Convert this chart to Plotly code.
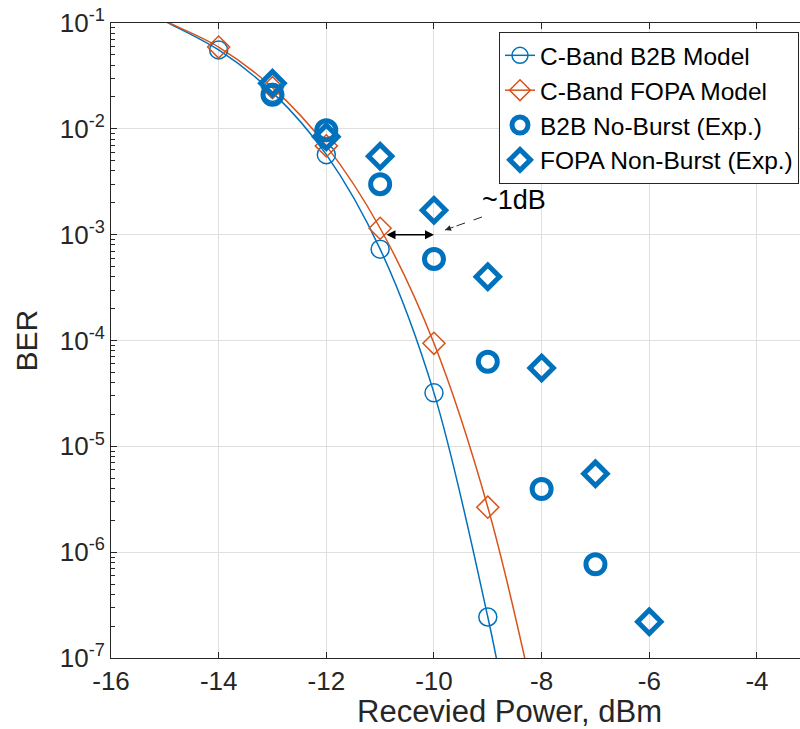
import plotly.graph_objects as go

# Received optical power (dBm) and bit-error-rate values
model_x = [-14, -13, -12, -11, -10, -9]
b2b_model_ber = [5.56e-2, 2.21e-2, 5.7e-3, 7.3e-4, 3.2e-5, 2.44e-7]
fopa_model_ber = [5.93e-2, 2.45e-2, 6.9e-3, 1.15e-3, 9.4e-5, 2.66e-6]

# Smooth model curves (extended to the plot edges)
b2b_curve_x = [-15.2, -15, -14, -13, -12, -11, -10, -9, -8.8]
b2b_curve_ber = [1.18e-1, 1.04e-1, 5.56e-2, 2.21e-2, 5.7e-3, 7.3e-4, 3.2e-5, 2.44e-7, 7.8e-8]
fopa_curve_x = [-15.2, -15, -14, -13, -12, -11, -10, -9, -8.2]
fopa_curve_ber = [1.2e-1, 1.05e-1, 5.93e-2, 2.45e-2, 6.9e-3, 1.15e-3, 9.4e-5, 2.66e-6, 5.5e-8]

# Measured results
b2b_exp_x = [-13, -12, -11, -10, -9, -8, -7]
b2b_exp_ber = [2.1e-2, 9.7e-3, 3.0e-3, 5.9e-4, 6.3e-5, 3.95e-6, 7.7e-7]
fopa_exp_x = [-13, -12, -11, -10, -9, -8, -7, -6]
fopa_exp_ber = [2.7e-2, 8.4e-3, 5.5e-3, 1.7e-3, 4.0e-4, 5.5e-5, 5.5e-6, 2.2e-7]

# Axis ticks
x_ticks = [-16, -14, -12, -10, -8, -6, -4]
x_tick_labels = ["-16", "-14", "-12", "-10", "-8", "-6", "-4"]
y_ticks = [1e-7, 1e-6, 1e-5, 1e-4, 1e-3, 1e-2, 1e-1]
y_tick_labels = ["10<sup>-7</sup>", "10<sup>-6</sup>", "10<sup>-5</sup>", "10<sup>-4</sup>",
                 "10<sup>-3</sup>", "10<sup>-2</sup>", "10<sup>-1</sup>"]
y_minor = [m * 10 ** e for e in range(-7, -1) for m in range(2, 10)]

# ~1dB penalty marker
gap_start, gap_end, gap_ber = -10.91, -10.0, 1e-3
pointer_x = [-9.108, -9.795]
pointer_ber = [10 ** -2.833, 10 ** -2.956]

BLUE = "#0072BD"
ORANGE = "#D95319"
INK = "#262626"
FONT = "Liberation Sans, Arial, sans-serif"

fig = go.Figure()

# model curves
fig.add_trace(go.Scatter(x=b2b_curve_x, y=b2b_curve_ber, mode="lines",
                         line=dict(color=BLUE, width=1.5, shape="spline"),
                         showlegend=False, hoverinfo="skip"))
fig.add_trace(go.Scatter(x=fopa_curve_x, y=fopa_curve_ber, mode="lines",
                         line=dict(color=ORANGE, width=1.5, shape="spline"),
                         showlegend=False, hoverinfo="skip"))
fig.add_trace(go.Scatter(x=model_x, y=b2b_model_ber, mode="markers",
                         marker=dict(symbol="circle-open", size=18, color=BLUE,
                                     line=dict(width=1.5, color=BLUE)),
                         showlegend=False))
fig.add_trace(go.Scatter(x=model_x, y=fopa_model_ber, mode="markers",
                         marker=dict(symbol="diamond-open", size=17, color=ORANGE,
                                     line=dict(width=1.5, color=ORANGE)),
                         showlegend=False))

# legend entries for the model curves
fig.add_trace(go.Scatter(x=[None], y=[None], mode="lines+markers", name="C-Band B2B Model",
                         line=dict(color=BLUE, width=1.5),
                         marker=dict(symbol="circle-open", size=16, color=BLUE,
                                     line=dict(width=1.5, color=BLUE))))
fig.add_trace(go.Scatter(x=[None], y=[None], mode="lines+markers", name="C-Band FOPA Model",
                         line=dict(color=ORANGE, width=1.5),
                         marker=dict(symbol="diamond-open", size=16, color=ORANGE,
                                     line=dict(width=1.5, color=ORANGE))))

# measurements
fig.add_trace(go.Scatter(x=b2b_exp_x, y=b2b_exp_ber, mode="markers",
                         name="B2B No-Burst (Exp.)",
                         marker=dict(symbol="circle-open", size=19, color=BLUE,
                                     line=dict(width=5, color=BLUE))))
fig.add_trace(go.Scatter(x=fopa_exp_x, y=fopa_exp_ber, mode="markers",
                         name="FOPA Non-Burst (Exp.)",
                         marker=dict(symbol="diamond-open", size=18, color=BLUE,
                                     line=dict(width=5, color=BLUE))))

# dashed pointer toward the gap
fig.add_trace(go.Scatter(x=pointer_x, y=pointer_ber, mode="lines",
                         line=dict(color=INK, width=1, dash="dash"),
                         showlegend=False, hoverinfo="skip"))

annotations = [
    dict(x=gap_end, y=-3, ax=gap_start, ay=-3, axref="x", ayref="y", xref="x", yref="y",
         text="", showarrow=True, arrowside="end+start", arrowhead=2, arrowsize=1.2,
         arrowwidth=1.5, arrowcolor="black", standoff=0, startstandoff=0),
    dict(x=pointer_x[1], y=-2.956, ax=10, ay=-3.5, xref="x", yref="y",
         text="", showarrow=True, arrowhead=2, arrowsize=1.2, arrowwidth=1,
         arrowcolor=INK, standoff=0),
    dict(x=-8.51, y=-2.67, xref="x", yref="y", text="~1dB", showarrow=False,
         font=dict(family=FONT, size=27, color="black")),
    dict(x=(509 - 111) / 689, y=-(711 - 658) / 635, xref="paper", yref="paper",
         xanchor="center", yanchor="middle",
         text="Recevied Power, dBm", showarrow=False,
         font=dict(family=FONT, size=31, color=INK)),
    dict(x=(26 - 111) / 689, y=0.5, xref="paper", yref="paper", text="BER",
         xanchor="center", yanchor="middle",
         textangle=-90, showarrow=False, font=dict(family=FONT, size=30, color=INK)),
]

fig.update_layout(
    width=800, height=729,
    margin=dict(l=111, r=0, t=23, b=71),
    paper_bgcolor="white", plot_bgcolor="white",
    font=dict(family=FONT, size=26, color=INK),
    showlegend=True,
    legend=dict(x=(799 - 111) / 689, y=0.986, xanchor="right", yanchor="top",
                bgcolor="white", bordercolor=INK, borderwidth=1,
                font=dict(family=FONT, size=24.5, color="black"),
                tracegroupgap=0, itemwidth=30),
    annotations=annotations,
)

fig.update_xaxes(range=[-16, -3.2], tickmode="array", tickvals=x_ticks, ticktext=x_tick_labels,
                 showgrid=True, gridcolor="#dfdfdf", gridwidth=1, zeroline=False,
                 showline=True, linecolor=INK, linewidth=1, mirror="ticks",
                 ticks="inside", ticklen=6, tickcolor=INK,
                 tickfont=dict(family=FONT, size=26, color=INK))
fig.update_yaxes(type="log", range=[-7, -1], tickmode="array", tickvals=y_ticks,
                 ticktext=y_tick_labels,
                 showgrid=True, gridcolor="#dfdfdf", gridwidth=1, zeroline=False,
                 showline=True, linecolor=INK, linewidth=1,
                 ticks="inside", ticklen=6, tickcolor=INK,
                 minor=dict(tickvals=y_minor, ticks="inside", ticklen=4, tickcolor=INK,
                            showgrid=False),
                 tickfont=dict(family=FONT, size=26, color=INK))

fig.write_html("out.html")
